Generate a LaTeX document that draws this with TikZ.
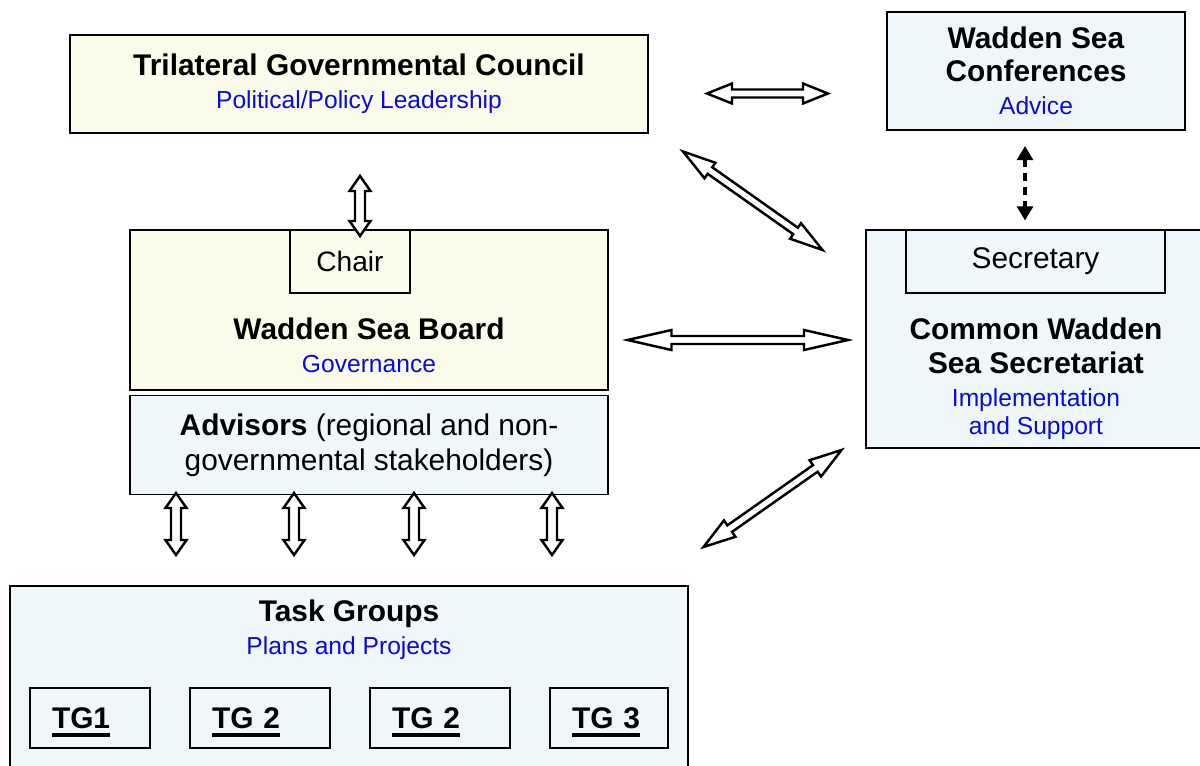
\documentclass[tikz,border=0pt]{standalone}
\usepackage{fontspec}
\setmainfont{Liberation Sans}
\usetikzlibrary{
    arrows.meta,
    positioning,
    calc
}
\definecolor{wsyellow}{RGB}{251, 251, 236}
\definecolor{wsblue}{RGB}{240, 247, 251}
\definecolor{roleblue}{RGB}{10, 10, 215}
\newcommand{\role}[1]{{\color{roleblue}\fontsize{14}{18.7}\selectfont #1}}
\newcommand{\tgline}[1]{\setbox0\hbox{#1}\rlap{\smash{\rule[-5pt]{\wd0}{2.2pt}}}\box0}

\begin{document}
\begin{tikzpicture}[
        box/.style={draw, line width=1.3pt, align=center, inner sep=0pt, font=\fontsize{17}{18.7}\selectfont},
        govbox/.style={box, fill=wsyellow},
        supbox/.style={box, fill=wsblue},
        tgbox/.style={supbox, align=left, inner xsep=0.44cm, minimum height=1.2cm, font=\bfseries\fontsize{17}{18.7}\selectfont},
        txt/.style={align=center, inner sep=0pt, font=\fontsize{17}{18.7}\selectfont},
        hollow/.style n args={3}{draw, fill=white, line width=1.4pt, to path={
            -- ($(\tikztostart)!#1!(\tikztotarget)!#2!90:(\tikztotarget)$)
            -- ($(\tikztostart)!#1!(\tikztotarget)!#3!90:(\tikztotarget)$)
            -- ($(\tikztotarget)!#1!(\tikztostart)!#3!-90:(\tikztostart)$)
            -- ($(\tikztotarget)!#1!(\tikztostart)!#2!-90:(\tikztostart)$)
            -- (\tikztotarget)
            -- ($(\tikztotarget)!#1!(\tikztostart)!#2!90:(\tikztostart)$)
            -- ($(\tikztotarget)!#1!(\tikztostart)!#3!90:(\tikztostart)$)
            -- ($(\tikztostart)!#1!(\tikztotarget)!#3!-90:(\tikztotarget)$)
            -- ($(\tikztostart)!#1!(\tikztotarget)!#2!-90:(\tikztotarget)$)
            -- cycle}},
        dasharrow/.style={line width=1.8pt, dash pattern=on 4.5pt off 3.5pt,
            {Triangle[length=8pt, width=9pt]}-{Triangle[length=8pt, width=9pt]}}
    ]
        \useasboundingbox (0, 0) rectangle (24, -15.3);

        % Council and conferences
        \node[govbox, minimum width=11.56cm, minimum height=1.96cm] (council) at (7.18, -1.68) {
            \textbf{Trilateral Governmental Council}\\
            \role{Political/Policy Leadership}
        };

        \node[supbox, minimum width=5.96cm, minimum height=2.36cm] (conf) at (20.72, -1.42) {
            \textbf{Wadden Sea}\\
            \textbf{Conferences}\\
            \role{Advice}
        };

        % Board and advisors
        \node[govbox, minimum width=9.56cm, minimum height=3.2cm] (board) at (7.38, -6.2) {};
        \node[govbox, minimum width=2.4cm, minimum height=1.26cm, font=\fontsize{16}{18}\selectfont,
            below right=0pt and 3.2cm of board.north west] (chair) {Chair};
        \node[txt] (boardtxt) at (7.38, -6.9) {
            \textbf{Wadden Sea Board}\\
            \role{Governance}
        };

        \node[supbox, line width=0.7pt, minimum width=9.56cm, minimum height=1.98cm,
            font=\fontsize{17}{20.4}\selectfont, below=0.08cm of board] (adv) {
            \textbf{Advisors} (regional and non-\\
            governmental stakeholders)
        };

        % Secretariat
        \node[supbox, minimum width=6.88cm, minimum height=4.36cm] (secr) at (20.76, -6.78) {};
        \node[supbox, minimum width=5.18cm, minimum height=1.26cm,
            below right=0pt and 0.8cm of secr.north west] (secy) {Secretary};
        \node[txt] (secrtxt) at (20.72, -7.58) {
            \textbf{Common Wadden}\\[0.6pt]
            \textbf{Sea Secretariat}\\
            \role{Implementation}\\[-2.8pt]
            \role{and Support}
        };

        % Task groups
        \node[supbox, minimum width=13.56cm, minimum height=3.9cm, anchor=north] (tasks) at (6.98, -11.7) {};
        \node[txt] (tasktxt) at (6.98, -12.59) {
            \textbf{Task Groups}\\
            \role{Plans and Projects}
        };
        \node[tgbox, text width=1.52cm] (tg1) at (1.8, -14.36) {\tgline{TG1}};
        \node[tgbox, text width=1.92cm] (tg2) at (5.2, -14.36) {\tgline{TG 2}};
        \node[tgbox, text width=1.92cm] (tg2b) at (8.8, -14.36) {\tgline{TG 2}};
        \node[tgbox, text width=1.48cm] (tg3) at (12.18, -14.36) {\tgline{TG 3}};

        % Arrow ends
        \coordinate (cc1) at (14.14, -1.87);
        \coordinate (cc2) at (16.56, -1.87);
        \coordinate (cs1) at (13.66, -3.03);
        \coordinate (cs2) at (16.45, -5.0);
        \coordinate (cb1) at (7.2, -3.52);
        \coordinate (cb2) at (7.2, -4.72);
        \coordinate (ks1) at (20.5, -2.92);
        \coordinate (ks2) at (20.5, -4.41);
        \coordinate (bs1) at (12.55, -6.8);
        \coordinate (bs2) at (16.96, -6.8);
        \coordinate (st1) at (16.83, -9.0);
        \coordinate (st2) at (14.07, -10.94);
        \coordinate (at1a) at (3.52, -9.86);
        \coordinate (at1b) at (3.52, -11.1);
        \coordinate (at2a) at (5.88, -9.86);
        \coordinate (at2b) at (5.88, -11.1);
        \coordinate (at3a) at (8.28, -9.86);
        \coordinate (at3b) at (8.28, -11.1);
        \coordinate (at4a) at (11.04, -9.86);
        \coordinate (at4b) at (11.04, -11.1);

        % Arrows
        \draw[hollow={0.5cm}{0.2cm}{0.08cm}] (cc1) to (cc2);
        \draw[hollow={0.66cm}{0.19cm}{0.08cm}] (cs1) to (cs2);
        \draw[hollow={0.3cm}{0.21cm}{0.1cm}] (cb1) to (cb2);
        \draw[dasharrow] (ks1) -- (ks2);
        \draw[hollow={0.88cm}{0.2cm}{0.08cm}] (bs1) to (bs2);
        \draw[hollow={0.64cm}{0.2cm}{0.08cm}] (st1) to (st2);
        \draw[hollow={0.3cm}{0.21cm}{0.1cm}] (at1a) to (at1b);
        \draw[hollow={0.3cm}{0.21cm}{0.1cm}] (at2a) to (at2b);
        \draw[hollow={0.3cm}{0.21cm}{0.1cm}] (at3a) to (at3b);
        \draw[hollow={0.3cm}{0.21cm}{0.1cm}] (at4a) to (at4b);
    \end{tikzpicture}
\end{document}
